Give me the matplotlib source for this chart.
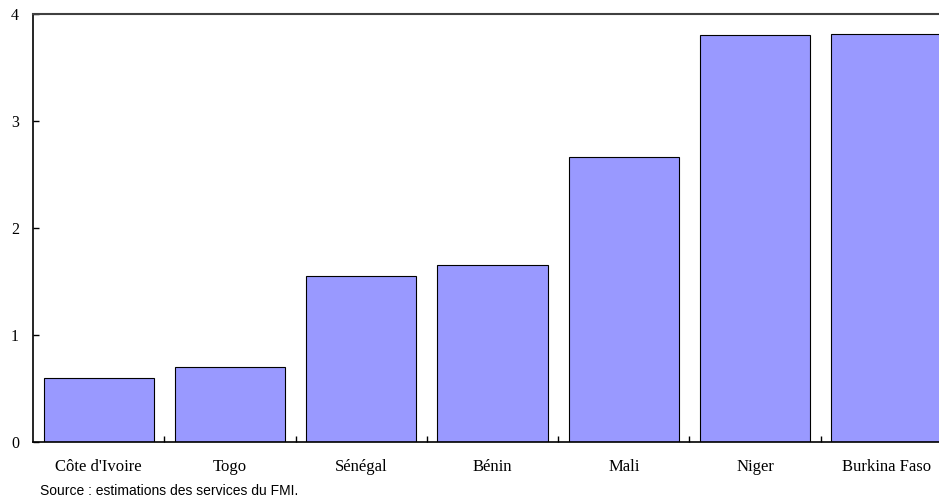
import matplotlib
matplotlib.use("Agg")
import matplotlib.pyplot as plt
import numpy as np

countries = ["Côte d'Ivoire", "Togo", "Sénégal", "Bénin", "Mali", "Niger", "Burkina Faso"]
values = [0.60, 0.70, 1.55, 1.65, 2.66, 3.80, 3.81]
y_ticks = [0, 1, 2, 3, 4]
source_text = "Source : estimations des services du FMI."

fig = plt.figure(figsize=(9.39, 5.04), dpi=100)
# right edge of the plot area lies outside the picture, as in the original
ax = fig.add_axes([33 / 939, 62 / 504, 919 / 939, 428 / 504])

x = np.arange(len(countries))
ax.bar(x, values, width=0.84, color="#9999ff", edgecolor="black", linewidth=0.8)

ax.set_xlim(-0.5, len(countries) - 0.5)
ax.set_ylim(0, 4)
ax.set_yticks(y_ticks)
ax.set_yticklabels([str(t) for t in y_ticks], family="Liberation Serif", fontsize=11.5)

# category labels without ticks, ticks between categories
ax.set_xticks(x)
ax.set_xticklabels(countries, family="Liberation Serif", fontsize=12)
ax.tick_params(axis="x", length=0, pad=12)
ax.set_xticks(np.arange(0.5, len(countries) - 0.5, 1), minor=True)
ax.tick_params(axis="x", which="minor", direction="in", length=4, width=1)
ax.tick_params(axis="y", direction="in", length=4, width=1, pad=10)

ax.spines["top"].set_color("#404040")
ax.spines["top"].set_linewidth(1.5)
ax.spines["left"].set_linewidth(1.2)
ax.spines["bottom"].set_linewidth(1.2)

fig.text(40 / 939, 1 - 491 / 504, source_text, family="Liberation Sans", fontsize=10,
         ha="left", va="center")

fig.savefig("out.png", dpi=100)
